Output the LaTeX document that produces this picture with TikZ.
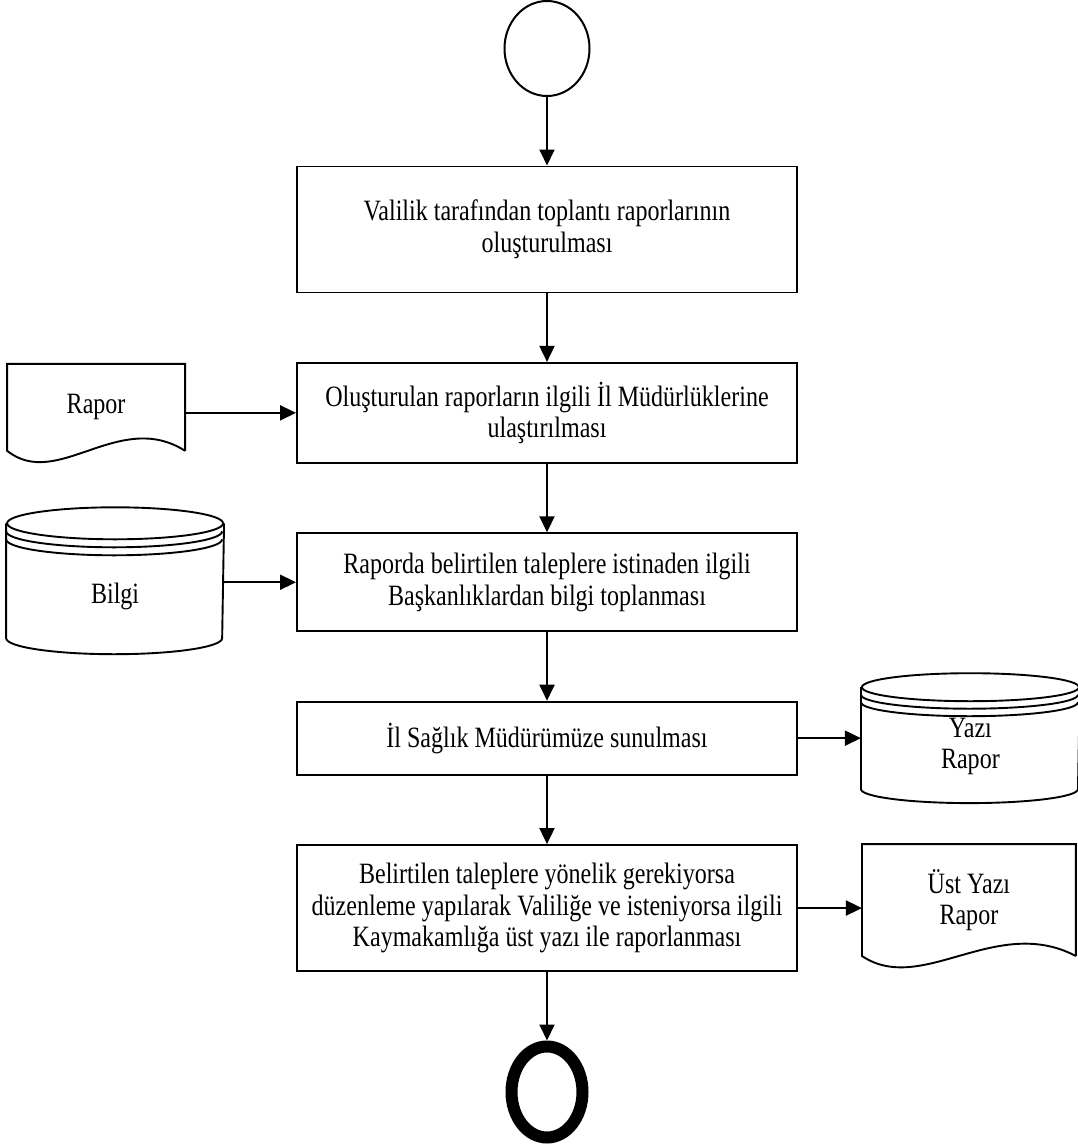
\documentclass[tikz,border=0pt]{standalone}
\usepackage{fontspec}
\setmainfont{Liberation Serif}[FakeStretch=0.815]
\usetikzlibrary{
  shapes.geometric,
  calc,
  positioning,
  arrows.meta
}

\newcommand{\docshape}[3]{%
  \draw[shapeline] (#1.south east) -- (#1.north east) -- (#1.north west) -- (#1.south west)
    .. controls +(#2,-40) and +(-#3,42) .. (#1.south east);}
\newcommand{\dbshape}[5]{%
  \draw[shapeline] ($(#1.north)+(0,2*#4+#3)$) ellipse [x radius=#2, y radius=#3];
  \draw[shapeline] ($(#1.north west)+(0,#4+#3)$) arc [start angle=180, end angle=360, x radius=#2, y radius=#3];
  \draw[shapeline] ($(#1.north west)+(0,#3)$) arc [start angle=180, end angle=360, x radius=#2, y radius=#3];
  \draw[shapeline] ($(#1.north west)+(0,2*#4+#3)$) -- ($(#1.south west)+(0,-#5)$)
    arc [start angle=180, end angle=360, x radius=#2, y radius=#3] -- ($(#1.north east)+(0,2*#4+#3)$);}

\begin{document}
\begin{tikzpicture}[x=1pt, y=1pt, node distance = 68.5pt, line width=1.9pt,
    >={Triangle[width=15pt,length=16pt]},
    font=\fontsize{29.5}{31.5}\selectfont,
    shapeline/.style={line width=1.9pt},
    process/.style={draw, minimum width=500pt, inner sep=0pt, align=center},
    startnode/.style={draw, ellipse, line width=2pt, minimum width=85pt, minimum height=95pt, inner sep=0pt},
    endnode/.style={draw, ellipse, line width=12pt, minimum width=71pt, minimum height=91pt, inner sep=0pt},
    docbox/.style={inner sep=0pt, align=center},
    dbbox/.style={inner sep=0pt, align=center}]
    \useasboundingbox (0,0) rectangle (1078,-1146);

    \node[startnode] (start) at (547,-48.5) {};
    \node[process, minimum height=126pt, below = of start] (olustur) {Valilik tarafından toplantı raporlarının\\oluşturulması};
    \node[process, minimum height=100pt, below = of olustur] (ulastir) {Oluşturulan raporların ilgili İl Müdürlüklerine\\ulaştırılması};
    \node[process, minimum height=98pt, below = of ulastir] (bilgitopla) {Raporda belirtilen taleplere istinaden ilgili\\Başkanlıklardan bilgi toplanması};
    \node[process, minimum height=73pt, below = of bilgitopla] (sunum) {İl Sağlık Müdürümüze sunulması};
    \node[process, minimum height=126pt, below = of sunum] (raporla) {Belirtilen taleplere yönelik gerekiyorsa\\düzenleme yapılarak Valiliğe ve isteniyorsa ilgili\\Kaymakamlığa üst yazı ile raporlanması};
    \node[endnode, below = of raporla] (bitis) {};

    \node[docbox, minimum width=176pt, minimum height=85pt, left = 111pt of ulastir, yshift=5.5pt] (rapor) {Rapor};
    \node[dbbox, minimum width=216pt, minimum height=81pt, left = 72pt of bilgitopla, yshift=-14.5pt] (bilgi) {Bilgi};
    \node[dbbox, minimum width=217pt, minimum height=59pt, right = 63pt of sunum, yshift=-8.5pt] (yazi) {Yazı\\Rapor};
    \node[docbox, minimum width=212pt, minimum height=110pt, right = 64pt of raporla, yshift=8pt] (ust) {Üst Yazı\\Rapor};

    \docshape{rapor}{50}{66}
    \docshape{ust}{60}{80}
    \dbshape{bilgi}{108}{16}{8}{0}
    \dbshape{yazi}{108.5}{14}{7.5}{12}

    \draw[->] (start) -- (olustur);
    \draw[->] (olustur) -- (ulastir);
    \draw[->] (ulastir) -- (bilgitopla);
    \draw[->] (bilgitopla) -- (sunum);
    \draw[->] (sunum) -- (raporla);
    \draw[->] (raporla) -- (bitis);
    \draw[->] (rapor.east |- ulastir.west) -- (ulastir.west);
    \draw[->] (bilgi.east |- bilgitopla.west) -- (bilgitopla.west);
    \draw[->] (sunum.east) -- (sunum.east -| yazi.west);
    \draw[->] (raporla.east) -- (raporla.east -| ust.west);
\end{tikzpicture}
\end{document}
